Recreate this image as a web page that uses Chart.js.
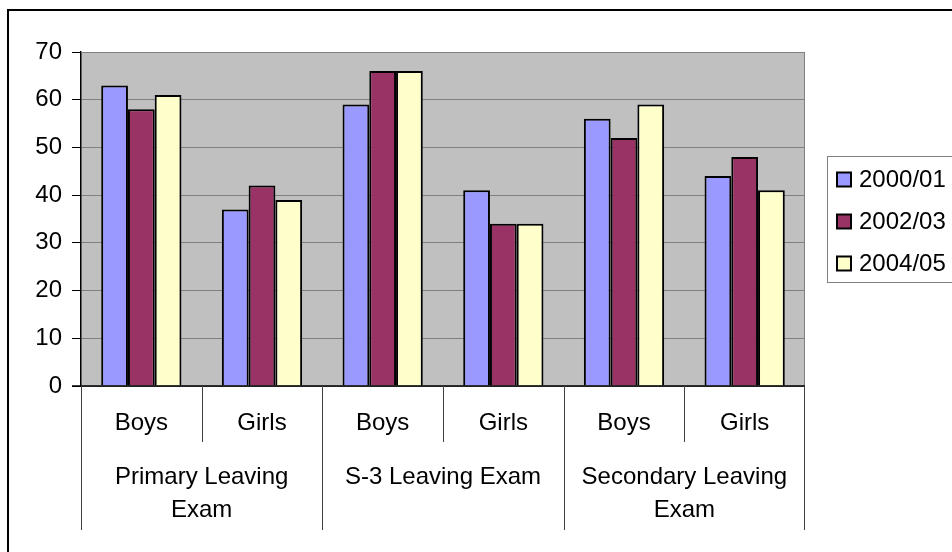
<!DOCTYPE html>
<html>
<head>
<meta charset="utf-8">
<script src="https://cdn.jsdelivr.net/npm/chart.js@4"></script>
<style>
html,body{margin:0;padding:0;background:#fff;}
canvas{display:block;}
</style>
</head>
<body>
<canvas id="c" width="952" height="552"></canvas>
<script>
const subLabels = ['Boys','Girls','Boys','Girls','Boys','Girls'];
const groupLabels = [['Primary Leaving','Exam'],['S-3 Leaving Exam'],['Secondary Leaving','Exam']];
const seriesNames = ['2000/01','2002/03','2004/05'];
const s2000 = [63, 37, 59, 41, 56, 44];
const s2002 = [58, 42, 66, 34, 52, 48];
const s2004 = [61, 39, 66, 34, 59, 41];
const colors = ['#9999FF','#993366','#FFFFCC'];
const yTicks = [0,10,20,30,40,50,60,70];

const FONT = "'Liberation Sans', Arial, sans-serif";
const FS = 24;

const decor = {
  id: 'decor',
  beforeDraw(chart) {
    const {ctx, chartArea: a} = chart;
    ctx.save();
    ctx.fillStyle = '#C0C0C0';
    ctx.fillRect(a.left, a.top, a.right - a.left, a.bottom - a.top);
    ctx.restore();
  },
  afterDraw(chart) {
    const {ctx, chartArea: a} = chart;
    const xs = chart.scales.x;
    ctx.save();
    ctx.strokeStyle = '#808080';
    ctx.lineWidth = 1;
    ctx.beginPath();
    ctx.moveTo(a.left, a.top + 0.5);
    ctx.lineTo(a.right - 0.5, a.top + 0.5);
    ctx.lineTo(a.right - 0.5, a.bottom);
    ctx.stroke();
    ctx.strokeStyle = '#000';
    ctx.lineWidth = 1.5;
    ctx.beginPath();
    ctx.moveTo(a.left - 9, a.bottom);
    ctx.lineTo(a.right, a.bottom);
    ctx.stroke();
    const step = xs.getPixelForValue(1) - xs.getPixelForValue(0);
    ctx.strokeStyle = '#404040';
    ctx.lineWidth = 1;
    for (let i = 0; i <= subLabels.length; i++) {
      let x = Math.round(xs.getPixelForValue(0) - step / 2 + i * step) + 0.5;
      if (i === subLabels.length) x = a.right - 0.5;
      const len = (i % 2 === 0) ? 144 : 56;
      ctx.beginPath();
      ctx.moveTo(x, a.bottom);
      ctx.lineTo(x, a.bottom + len);
      ctx.stroke();
    }
    ctx.fillStyle = '#000';
    ctx.font = FS + 'px ' + FONT;
    ctx.textAlign = 'center';
    ctx.textBaseline = 'middle';
    subLabels.forEach((l, i) => {
      ctx.fillText(l, xs.getPixelForValue(i), a.bottom + 37);
    });
    groupLabels.forEach((lines, g) => {
      const cx = (xs.getPixelForValue(2 * g) + xs.getPixelForValue(2 * g + 1)) / 2;
      lines.forEach((ln, k) => {
        ctx.fillText(ln, cx, a.bottom + 91 + k * 33);
      });
    });
    ctx.strokeStyle = '#000';
    ctx.lineWidth = 2;
    ctx.beginPath();
    ctx.moveTo(8, 560);
    ctx.lineTo(8, 10);
    ctx.lineTo(960, 10);
    ctx.stroke();
    ctx.lineWidth = 1;
    ctx.fillStyle = '#fff';
    ctx.fillRect(827.5, 156.5, 140, 126);
    ctx.strokeStyle = '#808080';
    ctx.strokeRect(827.5, 156.5, 140, 126);
    ctx.textAlign = 'left';
    seriesNames.forEach((n, i) => {
      const cy = 179.5 + i * 42;
      ctx.fillStyle = colors[i];
      ctx.fillRect(837, cy - 7, 14, 14);
      ctx.strokeStyle = '#000';
      ctx.lineWidth = 2;
      ctx.strokeRect(837, cy - 7, 14, 14);
      ctx.fillStyle = '#000';
      ctx.fillText(n, 859, cy + 1);
    });
    ctx.restore();
  }
};

new Chart(document.getElementById('c'), {
  type: 'bar',
  data: {
    labels: subLabels,
    datasets: [s2000, s2002, s2004].map((d, i) => ({
      label: seriesNames[i],
      data: d,
      backgroundColor: colors[i],
      borderColor: '#000',
      borderWidth: 2,
      categoryPercentage: 0.665,
      barPercentage: 1.0
    }))
  },
  options: {
    responsive: false,
    animation: false,
    layout: { padding: { left: 0, top: 52, right: 147, bottom: 166 } },
    plugins: { legend: { display: false }, tooltip: { enabled: false } },
    scales: {
      x: { display: false },
      y: {
        min: 0, max: 70,
        afterBuildTicks(s) { s.ticks = yTicks.map(v => ({ value: v })); },
        afterFit(s) { s.width = 81; },
        ticks: { font: { family: FONT, size: FS }, color: '#000', padding: 10 },
        grid: { color: '#808080', tickColor: '#000', tickLength: 9, lineWidth: 1 },
        border: { color: '#000', width: 1.5 }
      }
    }
  },
  plugins: [decor]
});
</script>
</body>
</html>
